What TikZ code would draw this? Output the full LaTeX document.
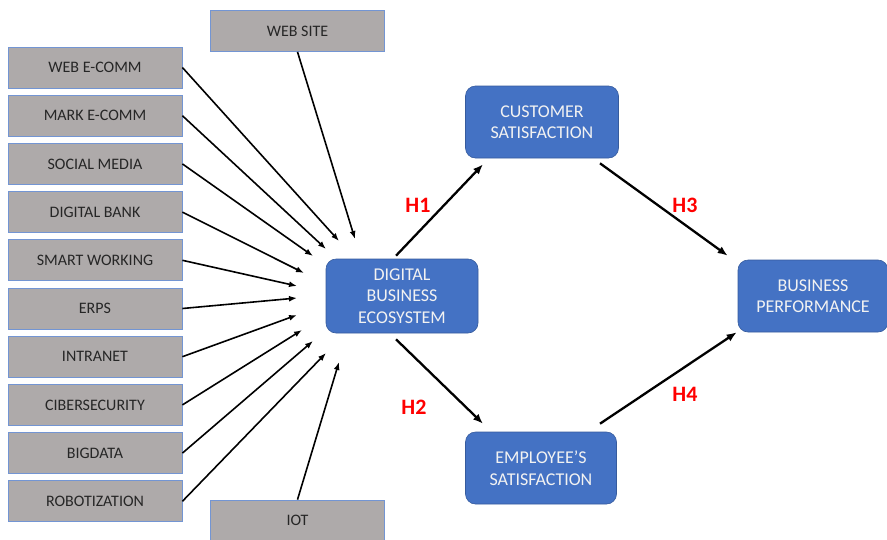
\documentclass[tikz,border=0pt]{standalone}
\usepackage{fontspec}
\setmainfont{Carlito}
\usetikzlibrary{arrows.meta}
\definecolor{boxgray}{HTML}{AEAAAA}
\definecolor{boxblue}{HTML}{4472C4}
\definecolor{hred}{HTML}{FF0000}
\begin{document}
\begin{tikzpicture}[x=1pt,y=-1pt,
    src/.style={draw=boxblue!75, line width=0.8pt, fill=boxgray, minimum width=174pt, minimum height=41pt,
        inner sep=0pt, font=\fontsize{16}{19}\selectfont, text=black!85},
    var/.style={draw=boxblue!80!black, line width=0.6pt, fill=boxblue, rounded corners=10pt, minimum height=72pt,
        inner sep=0pt, align=center, text=white!95!black, font=\fontsize{18}{21.5}\selectfont},
    feed/.style={-{Latex[length=8pt,width=6pt]}, line width=1.6pt},
    hyp/.style={-{Latex[length=10pt,width=8pt]}, line width=2.3pt},
    hlab/.style={text=hred, font=\fontsize{22}{24}\selectfont\bfseries}]
\useasboundingbox (0,0) rectangle (887,539);
% sources
\foreach \name/\txt [count=\i from 0] in {wec/WEB E-COMM, mec/MARK E-COMM, soc/SOCIAL MEDIA,
        dgb/DIGITAL BANK, smw/SMART WORKING, erp/ERPS, itr/INTRANET, cis/CIBERSECURITY,
        bgd/BIGDATA, rob/ROBOTIZATION}
    \node[src] (\name) at (95,{67.5+48.2*\i}) {\txt};
\node[src] (web) at (297.5,31) {WEB SITE};
\node[src] (iot) at (297.5,520.5) {IOT};
% constructs
\node[var, minimum width=152pt, minimum height=74pt] (dbe) at (402,296) {DIGITAL\\BUSINESS\\ECOSYSTEM};
\node[var, minimum width=153pt] (cs) at (542,122) {CUSTOMER\\SATISFACTION};
\node[var, minimum width=151pt] (es) at (541,468) {EMPLOYEE’S\\SATISFACTION};
\node[var, minimum width=150pt] (bp) at (813,296) {BUSINESS\\PERFORMANCE};
% feeding arrows
\foreach \name/\anc/\tx/\ty in {web/south/355/239, wec/east/339/241, mec/east/326/249, soc/east/313/256,
        dgb/east/304/273, smw/east/297/286, erp/east/297/298, itr/east/297/315, cis/east/302/330,
        bgd/east/313/341, rob/east/326/353, iot/north/339/362}
{
    \coordinate (t-\name) at (\tx,\ty);
    \draw[feed] (\name.\anc) -- (t-\name);
}
% hypotheses
\draw[hyp] ([xshift=-6pt,yshift=3pt]dbe.north) -- ([xshift=-59pt,yshift=-6pt]cs.south);
\draw[hyp] ([xshift=-6pt,yshift=-6pt]dbe.south) -- ([xshift=-58pt,yshift=8pt]es.north);
\draw[hyp] ([xshift=58pt,yshift=-5pt]cs.south) -- ([xshift=-10pt,yshift=4pt]bp.north west);
\draw[hyp] ([xshift=59pt,yshift=8pt]es.north) -- ([xshift=-1pt,yshift=0pt]bp.south west);
\node[hlab] (h1) at (418,205) {H1};
\node[hlab] (h2) at (414,407) {H2};
\node[hlab] (h3) at (685,205) {H3};
\node[hlab] (h4) at (685,394) {H4};
\end{tikzpicture}
\end{document}
